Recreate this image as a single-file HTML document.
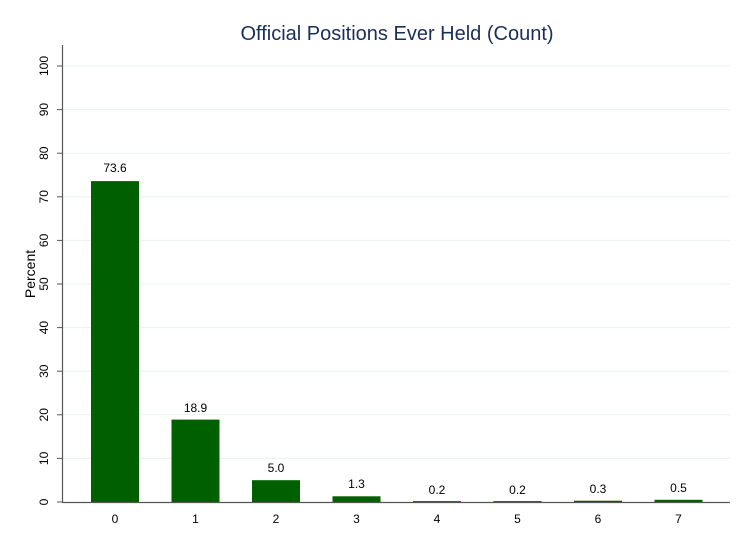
<!DOCTYPE html>
<html><head><style>body{margin:0;background:#fff}</style></head><body>
<svg width="750" height="545" xmlns="http://www.w3.org/2000/svg" font-family="Liberation Sans, Arial, sans-serif">
<rect width="750" height="545" fill="#fff"/>
<text x="397" y="40" text-anchor="middle" font-size="20" fill="#1a2e5a">Official Positions Ever Held (Count)</text>
<g stroke="#eaf0f0" stroke-width="1">
<line x1="63" x2="730" y1="458.4" y2="458.4"/><line x1="63" x2="730" y1="414.8" y2="414.8"/>
<line x1="63" x2="730" y1="371.2" y2="371.2"/><line x1="63" x2="730" y1="327.6" y2="327.6"/>
<line x1="63" x2="730" y1="284" y2="284"/><line x1="63" x2="730" y1="240.4" y2="240.4"/>
<line x1="63" x2="730" y1="196.8" y2="196.8"/><line x1="63" x2="730" y1="153.2" y2="153.2"/>
<line x1="63" x2="730" y1="109.6" y2="109.6"/><line x1="63" x2="730" y1="66" y2="66"/>
</g>
<g fill="#006000">
<rect x="91" y="181.1" width="48" height="320.9"/>
<rect x="171.5" y="419.6" width="48" height="82.4"/>
<rect x="252" y="480.2" width="48" height="21.8"/>
<rect x="332.5" y="496.3" width="48" height="5.7"/>
<rect x="413" y="501.1" width="48" height="0.9"/>
<rect x="493.5" y="501.1" width="48" height="0.9"/>
<rect x="574" y="500.7" width="48" height="1.3"/>
<rect x="654.5" y="499.8" width="48" height="2.2"/>
</g>
<g font-size="12" fill="#000" text-anchor="middle">
<text x="115" y="172">73.6</text><text x="195.5" y="412">18.9</text>
<text x="276" y="472">5.0</text><text x="356.5" y="488">1.3</text>
<text x="437" y="494">0.2</text><text x="517.5" y="494">0.2</text>
<text x="598" y="493">0.3</text><text x="678.5" y="492">0.5</text>
</g>
<g stroke="#555" stroke-width="1.2">
<line x1="62.5" x2="62.5" y1="45" y2="502"/>
<line x1="62" x2="730" y1="502.5" y2="502.5"/>
</g>
<g stroke="#555" stroke-width="1">
<line x1="57" x2="62" y1="502" y2="502"/><line x1="57" x2="62" y1="458.4" y2="458.4"/>
<line x1="57" x2="62" y1="414.8" y2="414.8"/><line x1="57" x2="62" y1="371.2" y2="371.2"/>
<line x1="57" x2="62" y1="327.6" y2="327.6"/><line x1="57" x2="62" y1="284" y2="284"/>
<line x1="57" x2="62" y1="240.4" y2="240.4"/><line x1="57" x2="62" y1="196.8" y2="196.8"/>
<line x1="57" x2="62" y1="153.2" y2="153.2"/><line x1="57" x2="62" y1="109.6" y2="109.6"/>
<line x1="57" x2="62" y1="66" y2="66"/>
</g>
<g font-size="12" fill="#000" text-anchor="middle">
<text transform="translate(48,502) rotate(-90)">0</text>
<text transform="translate(48,458.4) rotate(-90)">10</text>
<text transform="translate(48,414.8) rotate(-90)">20</text>
<text transform="translate(48,371.2) rotate(-90)">30</text>
<text transform="translate(48,327.6) rotate(-90)">40</text>
<text transform="translate(48,284) rotate(-90)">50</text>
<text transform="translate(48,240.4) rotate(-90)">60</text>
<text transform="translate(48,196.8) rotate(-90)">70</text>
<text transform="translate(48,153.2) rotate(-90)">80</text>
<text transform="translate(48,109.6) rotate(-90)">90</text>
<text transform="translate(48,66) rotate(-90)">100</text>
<text transform="translate(35,274) rotate(-90)" font-size="14">Percent</text>
</g>
<g font-size="12" fill="#000" text-anchor="middle">
<text x="115" y="523">0</text><text x="195.5" y="523">1</text><text x="276" y="523">2</text>
<text x="356.5" y="523">3</text><text x="437" y="523">4</text><text x="517.5" y="523">5</text>
<text x="598" y="523">6</text><text x="678.5" y="523">7</text>
</g>
</svg>
</body></html>
